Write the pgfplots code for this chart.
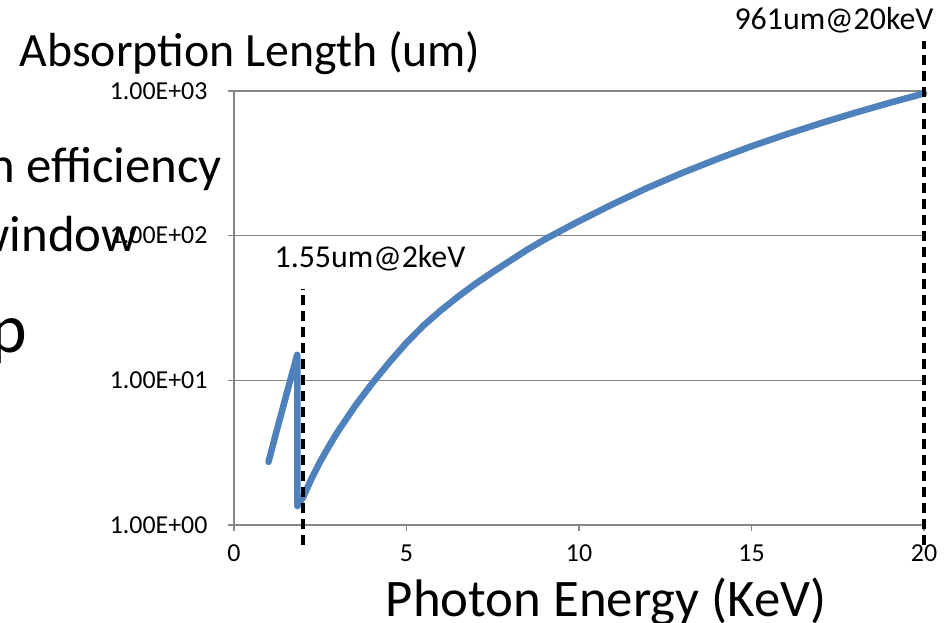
\documentclass[border=0pt]{standalone}
\usepackage{pgfplots}
\pgfplotsset{compat=1.18}
\usepackage{fontspec}
\setmainfont{Carlito}
\definecolor{xlblue}{RGB}{79,129,189}
\definecolor{gridgray}{RGB}{134,134,134}
\pgfplotstableread{
E L
1.0 2.73
1.2 4.15
1.4 6.25
1.6 9.4
1.75 12.7
1.83 15.0
1.838 14.6
1.839 1.35
1.9 1.43
2.0 1.55
2.25 2.1
2.5 2.75
2.75 3.5
3.0 4.39
3.5 6.6
4.0 9.5
4.5 13.3
5.0 18.2
5.5 24.0
6.0 30.5
6.5 38.0
7.0 46.5
7.5 56
8.0 67
8.5 80
9.0 94
9.5 109
10 126
11 166
12 215
13 272
14 338
15 415
16 501
17 598
18 707
19 828
20 961
}\absdata
\begin{document}
\begin{tikzpicture}[x=1bp,y=1bp]
\useasboundingbox (0,0) rectangle (949,623);
% background slide fragments
\node[anchor=base east, inner sep=0pt, font=\fontsize{51}{60}\selectfont] at (222,440) {n efficiency};
\node[anchor=base east, inner sep=0pt, font=\fontsize{51}{60}\selectfont] at (138,371) {window};
\node[anchor=base east, inner sep=0pt, font=\fontsize{70}{80}\selectfont] at (27,270) {p};
\begin{axis}[
  at={(234bp,98bp)}, anchor=south west,
  scale only axis, width=690bp, height=434bp,
  ymode=log, xmin=0, xmax=20, ymin=1, ymax=1000,
  clip=false,
  axis x line*=bottom, axis y line*=left,
  axis line style={-, draw=gridgray, line width=1.2bp},
  xtick={0,5,10,15,20}, xticklabels={0,5,10,15,20},
  ytick={1,10,100,1000},
  yticklabels={1.00E+00,1.00E+01,1.00E+02,1.00E+03},
  minor ytick={}, yminorticks=false,
  tick align=outside, major tick length=6bp,
  tick style={draw=gridgray, line width=1.2bp},
  ymajorgrids, grid style={draw=gridgray, line width=1.2bp},
  ticklabel style={font=\fontsize{26}{30}\selectfont},
  yticklabel style={xshift=-17bp},
  xticklabel style={yshift=-10bp},
]
\addplot[xlblue, line width=6.5bp, line join=round, line cap=round] table[x=E,y=L] {\absdata};
\addplot[black, line width=3.5bp, dash pattern=on 10bp off 6bp] coordinates {(2,0.73) (2,43)};
\addplot[black, line width=3.5bp, dash pattern=on 10bp off 6bp] coordinates {(20,0.73) (20,2200)};
\end{axis}
\node[anchor=base, inner sep=0pt, font=\fontsize{32}{38}\selectfont] at (370,355) {1.55um@2keV};
\node[anchor=base, inner sep=0pt, font=\fontsize{32}{38}\selectfont] at (834,593) {961um@20keV};
\node[anchor=base, inner sep=0pt, font=\fontsize{48}{56}\selectfont] at (250,556) {Absorption Length (um)};
\node[anchor=base, inner sep=0pt, font=\fontsize{53}{60}\selectfont] at (606,6) {Photon Energy (KeV)};
\end{tikzpicture}
\end{document}
